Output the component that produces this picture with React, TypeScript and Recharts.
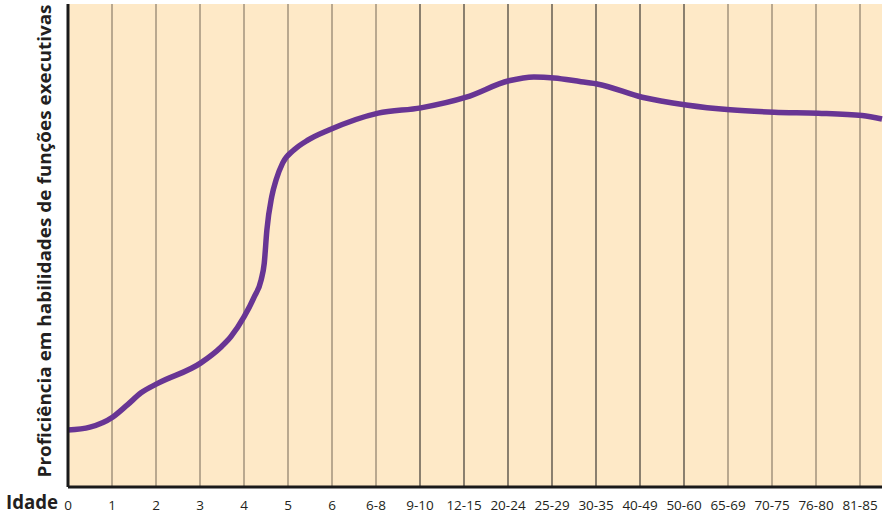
import { LineChart, Line, XAxis, YAxis, CartesianGrid, ReferenceLine } from 'recharts';

// age groups shown on the x axis (one per vertical line)
const ageLabels = [
  '0', '1', '2', '3', '4', '5', '6', '6-8', '9-10', '12-15',
  '20-24', '25-29', '30-35', '40-49', '50-60', '65-69', '70-75', '76-80', '81-85',
];

// position along the age axis (index of the age group, fractional between groups)
const agePos = [
  0, 0.5, 1.02, 1.35, 1.66, 2.05, 3.02, 3.48, 3.7, 4.0, 4.23, 4.39, 4.46, 4.52, 4.63,
  4.73, 4.88, 5.14, 5.45, 5.93, 7.05, 8.02, 9.05, 10.02, 10.59, 11.05, 11.66, 12.05,
  13.05, 14.05, 15.05, 16.05, 17.05, 18.05, 18.5,
];

// proficiency in executive function skills (relative scale 0-100)
const proficiency = [
  11.8, 12.4, 14.5, 17.0, 19.5, 21.5, 25.7, 29.0, 31.1, 35.2, 39.3, 42.9, 46.3, 53.2, 60.1,
  63.6, 67.1, 69.8, 71.8, 73.9, 77.4, 78.5, 80.7, 84.1, 84.9, 84.7, 83.9, 83.4,
  80.7, 79.1, 78.1, 77.6, 77.4, 76.9, 76.2,
];

const data = agePos.map((x, i) => ({ x, y: proficiency[i] }));
const tickIdx = ageLabels.map((_, i) => i);

const FONT = '"Open Sans", "Noto Sans", sans-serif';

export default function App() {
  return (
    <div style={{ position: 'fixed', left: 0, top: 0, width: 883, height: 514, background: '#fff' }}>
      <LineChart width={883} height={514} data={data} margin={{ top: 4, right: 1, left: 0, bottom: 0 }}>
        <CartesianGrid horizontal={false} vertical={false} fill="#fee9c7" stroke="none" />
        {tickIdx.slice(1).map((i) => (
          <ReferenceLine
            key={i}
            x={i}
            stroke={i >= 8 && i <= 14 ? '#3d3935' : '#8a7d6a'}
            strokeWidth={1.2}
          />
        ))}
        <XAxis
          dataKey="x"
          type="number"
          domain={[0, 18.5]}
          ticks={tickIdx}
          interval={0}
          height={27}
          tickFormatter={(v: number) => ageLabels[v] ?? ''}
          tickLine={false}
          tickSize={0}
          tickMargin={13}
          axisLine={{ stroke: '#1a1a1a', strokeWidth: 3 }}
          tick={{ fill: '#231f20', fontSize: 13.5, fontFamily: FONT }}
          label={{
            content: () => (
              <text x={6} y={509} fontFamily={FONT} fontWeight={700} fontSize={20} fill="#231f20"
                textLength={52} lengthAdjust="spacingAndGlyphs">
                Idade
              </text>
            ),
          }}
        />
        <YAxis
          type="number"
          domain={[0, 100]}
          width={68}
          tick={false}
          tickLine={false}
          axisLine={{ stroke: '#1a1a1a', strokeWidth: 3 }}
          label={{
            content: () => (
              <text transform="translate(51,241) rotate(-90)" textAnchor="middle" fontFamily={FONT}
                fontWeight={700} fontSize={17} fill="#231f20" textLength={473} lengthAdjust="spacingAndGlyphs">
                Proficiência em habilidades de funções executivas
              </text>
            ),
          }}
        />
        <Line
          type="monotone"
          dataKey="y"
          stroke="#683594"
          strokeWidth={5.5}
          dot={false}
          activeDot={false}
          isAnimationActive={false}
        />
      </LineChart>
    </div>
  );
}
